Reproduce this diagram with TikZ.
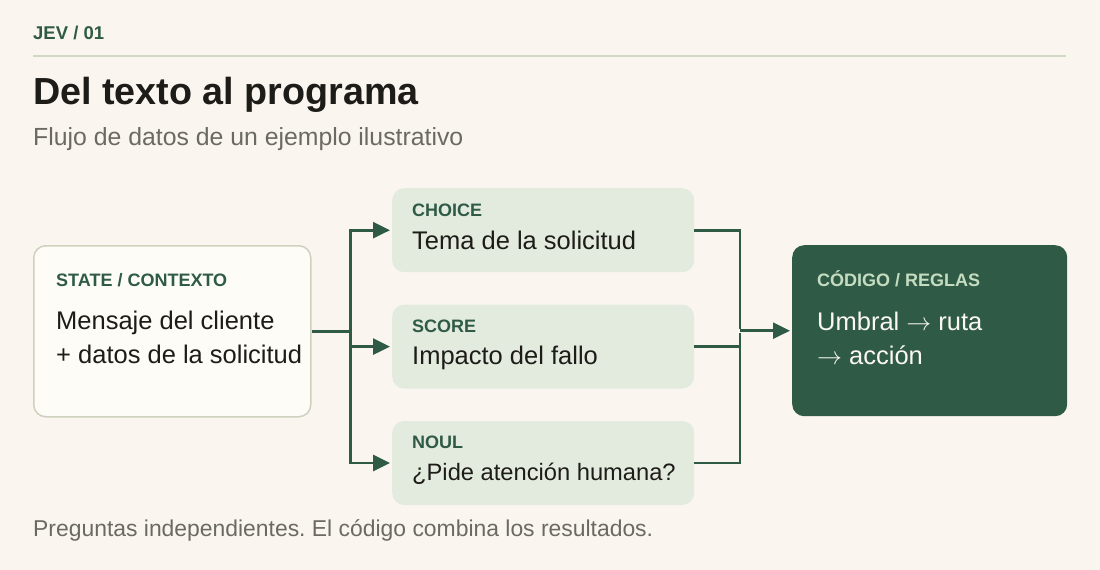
\documentclass[tikz,border=0pt]{standalone}
\usepackage{fontspec}
\setmainfont{Liberation Sans}
\usetikzlibrary{arrows.meta,positioning,calc}
\definecolor{paper}{HTML}{FAF6EF}
\definecolor{pine}{HTML}{2F5B46}
\definecolor{sage}{HTML}{E3EBDF}
\definecolor{ivory}{HTML}{FDFCF6}
\definecolor{edge}{HTML}{CFD1BF}
\definecolor{rulecol}{HTML}{D0D8C6}
\definecolor{ink}{HTML}{1D1C18}
\definecolor{mute}{HTML}{6B6A60}
\definecolor{mint}{HTML}{C6DCC1}
\definecolor{snow}{HTML}{FBF8F1}
\newcommand{\fs}[2]{\fontsize{#1}{#2}\selectfont}
\frenchspacing

\begin{document}
\begin{tikzpicture}[x=1pt,y=-1pt,->,>={Triangle[length=17pt,width=16pt]},shorten >=2pt,
base node/.style={rectangle,rounded corners=12pt,inner sep=0pt},
in node/.style={base node,draw=edge,line width=1.5pt,fill=ivory,minimum width=277pt,minimum height=171pt},
q node/.style={base node,fill=sage,minimum width=302pt,minimum height=84pt},
out node/.style={base node,fill=pine,minimum width=275pt,minimum height=171pt},
tag/.style={anchor=base west,inner sep=0pt,font=\bfseries\fs{18}{22},text=pine},
body/.style={anchor=base west,inner sep=0pt,font=\fs{25.5}{34},text=ink,align=left},
link/.style={draw=pine,line width=2.7pt}]

\fill[paper] (0,0) rectangle (1100,570);
\useasboundingbox (0,0) rectangle (1100,570);

% header
\node[tag,font=\bfseries\fs{18.5}{22}] (kicker) at (33,39) {JEV / 01};
\coordinate (ruleL) at (33,56);
\coordinate (ruleR) at (1068,56);
\draw[-,rulecol,line width=2pt] (ruleL) -- (ruleR);
\node[body,font=\bfseries\fs{37.7}{44}] (title) at (33,104) {Del texto al programa};
\node[body,font=\fs{24.8}{30},text=mute] (subtitle) at (33,145.5) {Flujo de datos de un ejemplo ilustrativo};

% boxes
\node[in node,anchor=north west] (state) at (33,245) {};
\node[q node,anchor=north west] (choice) at (392,188) {};
\node[q node] (score) [below=32pt of choice] {};
\node[q node] (noul) [below=32pt of score] {};
\node[out node,anchor=north west] (code) at (792,245) {};

% box texts (two-line nodes sit on their last line)
\node[tag] (stateL) at ([shift={(23,41)}]state.north west) {STATE / CONTEXTO};
\node[body] (stateB) at ([shift={(23,118)}]state.north west) {Mensaje del cliente\\+ datos de la solicitud};
\node[tag] (choiceL) at ([shift={(20,28)}]choice.north west) {CHOICE};
\node[body] (choiceB) at ([shift={(20,61)}]choice.north west) {Tema de la solicitud};
\node[tag] (scoreL) at ([shift={(20,28)}]score.north west) {SCORE};
\node[body] (scoreB) at ([shift={(20,60)}]score.north west) {Impacto del fallo};
\node[tag] (noulL) at ([shift={(20,28)}]noul.north west) {NOUL};
\node[body,font=\fs{23.7}{30}] (noulB) at ([shift={(20,60)}]noul.north west) {¿Pide atención humana?};
\node[tag,text=mint] (codeL) at ([shift={(25,41)}]code.north west) {CÓDIGO / REGLAS};
\node[body,text=snow] (codeB) at ([shift={(25,119)}]code.north west) {Umbral $\rightarrow$ ruta\\$\rightarrow$ acción};

% connectors
\coordinate (split) at ($(state.east)+(39,0)$);
\coordinate (merge) at ($(code.west)+(-52,0)$);
\draw[link,-] (state) -- (split);
\draw[link] (split) |- (choice);
\draw[link] (split) |- (score);
\draw[link] (split) |- (noul);
\draw[link,-] (choice) -| (merge);
\draw[link,-] (score) -| (merge);
\draw[link,-] (noul) -| (merge);
\draw[link] (merge) -- (code);

% footer
\node[body,font=\fs{22.9}{28},text=mute] (note) at (33,536) {Preguntas independientes. El código combina los resultados.};
\end{tikzpicture}
\end{document}
